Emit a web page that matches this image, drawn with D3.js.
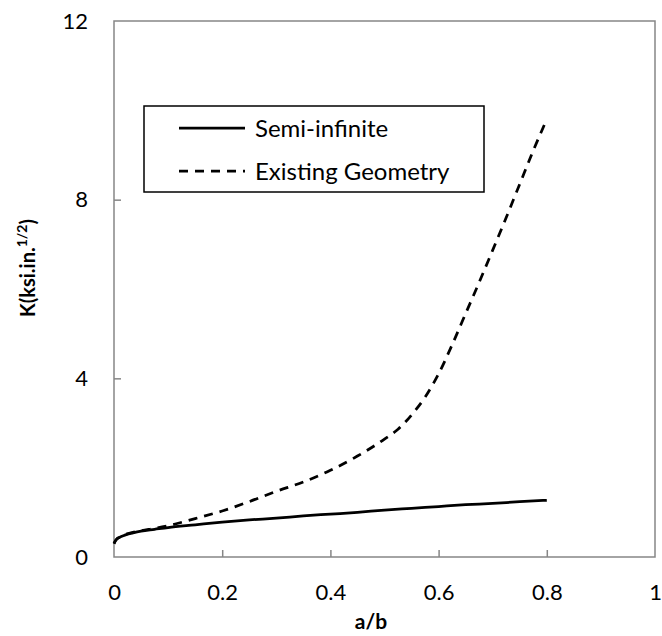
<!DOCTYPE html>
<html>
<head>
<meta charset="utf-8">
<script src="https://cdn.jsdelivr.net/npm/d3@7"></script>
<style>
  html, body { margin: 0; padding: 0; background: #fff; }
  svg { display: block; font-family: Lato, "Open Sans", sans-serif; }
</style>
</head>
<body>
<svg id="chart" width="662" height="636"></svg>
<script>
// Crack length ratio a/b and stress intensity K (ksi·in^1/2)
const semiA = [0, 0.002, 0.005, 0.01, 0.02, 0.035, 0.05, 0.075, 0.1, 0.15, 0.2, 0.25, 0.3, 0.35, 0.4, 0.45, 0.5, 0.55, 0.6, 0.65, 0.7, 0.75, 0.8];
const semiK = [0.30, 0.35, 0.40, 0.44, 0.49, 0.54, 0.58, 0.62, 0.66, 0.72, 0.78, 0.83, 0.87, 0.92, 0.96, 1.00, 1.05, 1.09, 1.13, 1.17, 1.20, 1.24, 1.27];

const geoA = [0, 0.002, 0.005, 0.01, 0.02, 0.035, 0.05, 0.075, 0.1, 0.15, 0.2, 0.25, 0.3, 0.35, 0.4, 0.45, 0.5, 0.525, 0.55, 0.575, 0.6, 0.625, 0.65, 0.675, 0.7, 0.725, 0.75, 0.775, 0.8];
const geoK = [0.30, 0.35, 0.40, 0.44, 0.50, 0.55, 0.59, 0.64, 0.70, 0.86, 1.03, 1.24, 1.47, 1.68, 1.94, 2.26, 2.64, 2.86, 3.18, 3.58, 4.10, 4.75, 5.45, 6.15, 6.87, 7.60, 8.35, 9.10, 9.80];

const xTicks = [0, 0.2, 0.4, 0.6, 0.8, 1];
const yTicks = [0, 4, 8, 12];

const seriesNames = ["Semi-infinite", "Existing Geometry"];

const svg = d3.select("#chart");
const plot = { left: 114, right: 655, top: 21, bottom: 557 };

const x = d3.scaleLinear().domain([0, 1]).range([plot.left, plot.right]);
const y = d3.scaleLinear().domain([0, 12]).range([plot.bottom, plot.top]);

const frameColor = "#868686";
const dash = "9,7";

// Plot frame
svg.append("rect")
  .attr("x", plot.left).attr("y", plot.top)
  .attr("width", plot.right - plot.left).attr("height", plot.bottom - plot.top)
  .attr("fill", "none").attr("stroke", frameColor).attr("stroke-width", 1.5);

// Axes with inward ticks
const xAxis = d3.axisBottom(x).tickValues(xTicks).tickSize(-7).tickPadding(27)
  .tickFormat(d3.format("~g"));
const gx = svg.append("g").attr("transform", `translate(0,${plot.bottom})`).call(xAxis);
gx.select(".domain").remove();
gx.selectAll(".tick line").attr("stroke", frameColor).attr("stroke-width", 1.5)
  .filter(d => d === 0 || d === 1).remove();
gx.selectAll(".tick text").attr("fill", "#000").style("font-size", "22px")
  .style("font-family", "Lato, 'Open Sans', sans-serif");

const yAxis = d3.axisLeft(y).tickValues(yTicks).tickSize(-7).tickPadding(26)
  .tickFormat(d3.format("~g"));
const gy = svg.append("g").attr("transform", `translate(${plot.left},0)`).call(yAxis);
gy.select(".domain").remove();
gy.selectAll(".tick line").attr("stroke", frameColor).attr("stroke-width", 1.5)
  .filter(d => d === 0 || d === 12).remove();
gy.selectAll(".tick text").attr("fill", "#000").style("font-size", "22px")
  .style("font-family", "Lato, 'Open Sans', sans-serif");

// Axis titles
svg.append("text")
  .attr("x", 371).attr("y", 629)
  .attr("text-anchor", "middle").attr("font-weight", "bold").attr("font-size", 21)
  .text("a/b");

const yt = svg.append("text")
  .attr("transform", `translate(35,${268}) rotate(-90)`)
  .attr("text-anchor", "middle").attr("font-weight", "bold").attr("font-size", 20);
yt.append("tspan").text("K(ksi.in.");
yt.append("tspan").attr("dy", -8).attr("font-size", 14).text("1/2");
yt.append("tspan").attr("dy", 8).text(")");

// Curves
const line = d3.line().x(d => x(d[0])).y(d => y(d[1])).curve(d3.curveMonotoneX);

svg.append("path")
  .datum(semiA.map((a, i) => [a, semiK[i]]))
  .attr("d", line).attr("fill", "none").attr("stroke", "#000").attr("stroke-width", 2.75);

svg.append("path")
  .datum(geoA.map((a, i) => [a, geoK[i]]))
  .attr("d", line).attr("fill", "none").attr("stroke", "#000").attr("stroke-width", 2.75)
  .attr("stroke-dasharray", dash);

// Legend
const lg = svg.append("g");
lg.append("rect").attr("x", 144).attr("y", 106).attr("width", 340).attr("height", 86)
  .attr("fill", "#fff").attr("stroke", "#000").attr("stroke-width", 1.5);
const rows = [128, 171];
seriesNames.forEach((name, i) => {
  lg.append("line").attr("x1", 179).attr("x2", 245).attr("y1", rows[i]).attr("y2", rows[i])
    .attr("stroke", "#000").attr("stroke-width", 2.75)
    .attr("stroke-dasharray", i === 1 ? dash : null);
  lg.append("text").attr("x", 255).attr("y", rows[i]).attr("dy", "0.36em")
    .attr("font-size", 24).text(name);
});
</script>
</body>
</html>
